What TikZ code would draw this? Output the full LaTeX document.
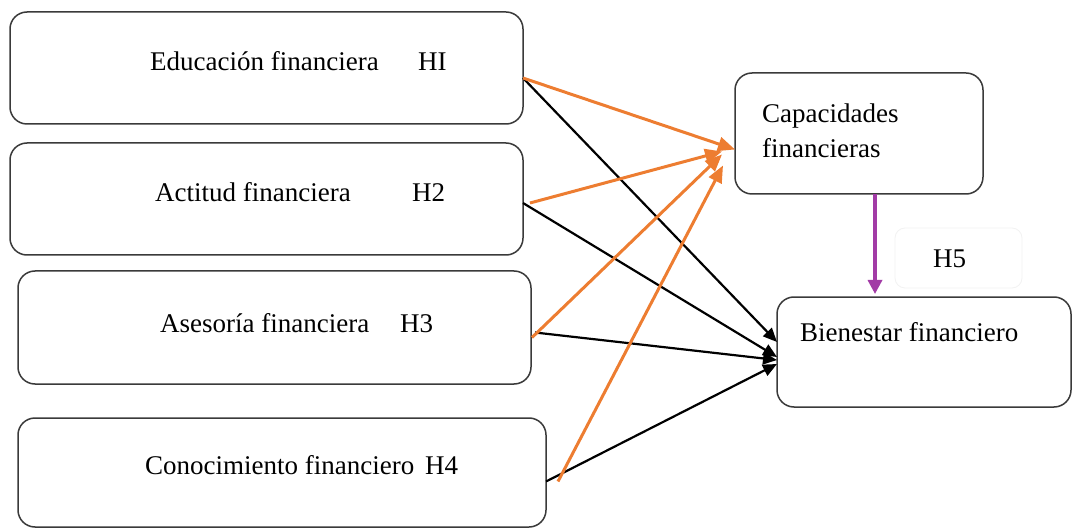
\documentclass[tikz,border=0pt]{standalone}
\usepackage{fontspec}
\setmainfont{Liberation Serif}
\usetikzlibrary{arrows.meta}
\definecolor{lineorange}{HTML}{ED7D31}
\definecolor{linepurple}{HTML}{A23BA6}
\definecolor{boxline}{HTML}{3A3A3A}
\begin{document}
\begin{tikzpicture}[x=1pt,y=-1pt,
  box/.style={draw=boxline,line width=1.5pt,rounded corners=17pt,fill=white,
    anchor=north west,inner sep=0pt,outer sep=0pt},
  lbl/.style={anchor=base west,inner sep=0pt,font=\fontsize{27}{34}\selectfont},
  orangearrow/.style={draw=lineorange,line width=3pt,
    -{Triangle[length=17pt,width=14pt]}},
  blackarrow/.style={draw=black,line width=2.2pt,
    -{Triangle[length=14pt,width=12pt]}},
  purplearrow/.style={draw=linepurple,line width=3.2pt,
    -{Triangle[length=14pt,width=14pt]}}]
\useasboundingbox (0,0) rectangle (1073,529);

% source boxes
\node[box,minimum width=513pt,minimum height=112pt] (b1) at (10,12) {};
\node[box,minimum width=513pt,minimum height=112pt] (b2) at (10,143) {};
\node[box,minimum width=513pt,minimum height=113pt] (b3) at (18,271) {};
\node[box,minimum width=528pt,minimum height=109pt] (b4) at (18,418) {};

% mediator and outcome
\node[box,minimum width=248pt,minimum height=121pt] (cap) at (735,73) {};
\node[box,minimum width=294pt,minimum height=110pt] (bien) at (777,297) {};
\node[box,draw=gray!10,line width=0.8pt,rounded corners=10pt,
  minimum width=127pt,minimum height=60pt] (h5box) at (895,228) {};

% labels
\node[lbl] (t1) at (150,71) {Educación financiera};
\node[lbl] (h1) at (418,71) {HI};
\node[lbl] (t2) at (155,202) {Actitud financiera};
\node[lbl] (h2) at (412,202) {H2};
\node[lbl] (t3) at (160,332) {Asesoría financiera};
\node[lbl] (h3) at (400,332) {H3};
\node[lbl] (t4) at (145,474) {Conocimiento financiero};
\node[lbl] (h4) at (425,474) {H4};
\node[lbl] (tc1) at (762,123) {Capacidades};
\node[lbl] (tc2) at (762,158) {financieras};
\node[lbl] (tb) at (800,341) {Bienestar financiero};
\node[lbl] (h5) at (933,268) {H5};

% end points on the box sides
\coordinate (s1) at ([yshift=-10pt]b1.east);
\coordinate (s2) at ([yshift=-4pt]b2.east);
\coordinate (s2o) at ([xshift=7pt,yshift=-4pt]b2.east);
\coordinate (s3) at ([xshift=4pt,yshift=-5pt]b3.east);
\coordinate (s3o) at ([xshift=1pt,yshift=-10pt]b3.east);
\coordinate (s4) at ([yshift=-9pt]b4.east);
\coordinate (s4o) at ([xshift=12pt,yshift=-9pt]b4.east);
\coordinate (c1) at ([yshift=-16pt]cap.west);
\coordinate (c2) at ([xshift=-13pt,yshift=-18pt]cap.west);
\coordinate (c3) at ([xshift=-13pt,yshift=-21pt]cap.west);
\coordinate (c4) at ([xshift=-12pt,yshift=-32pt]cap.west);
\coordinate (e1) at ([yshift=10pt]bien.west);
\coordinate (e2) at ([yshift=-5pt]bien.west);
\coordinate (e3) at ([yshift=-8pt]bien.west);
\coordinate (e4) at ([yshift=-12pt]bien.west);
\coordinate (p0) at (cap.south -| 875,0);
\coordinate (p1) at (bien.north -| 875,0);

% direct effects
\draw[blackarrow] (s1) -- (e1);
\draw[blackarrow] (s2) -- (e2);
\draw[blackarrow] (s3) -- (e3);
\draw[blackarrow] (s4) -- (e4);

% effects on the mediator
\draw[orangearrow] (s1) -- (c1);
\draw[orangearrow] (s2o) -- (c2);
\draw[orangearrow] (s3o) -- (c3);
\draw[orangearrow] (s4o) -- (c4);

% mediator to outcome
\draw[purplearrow] (p0) -- ([yshift=3pt]p1);
\end{tikzpicture}
\end{document}
